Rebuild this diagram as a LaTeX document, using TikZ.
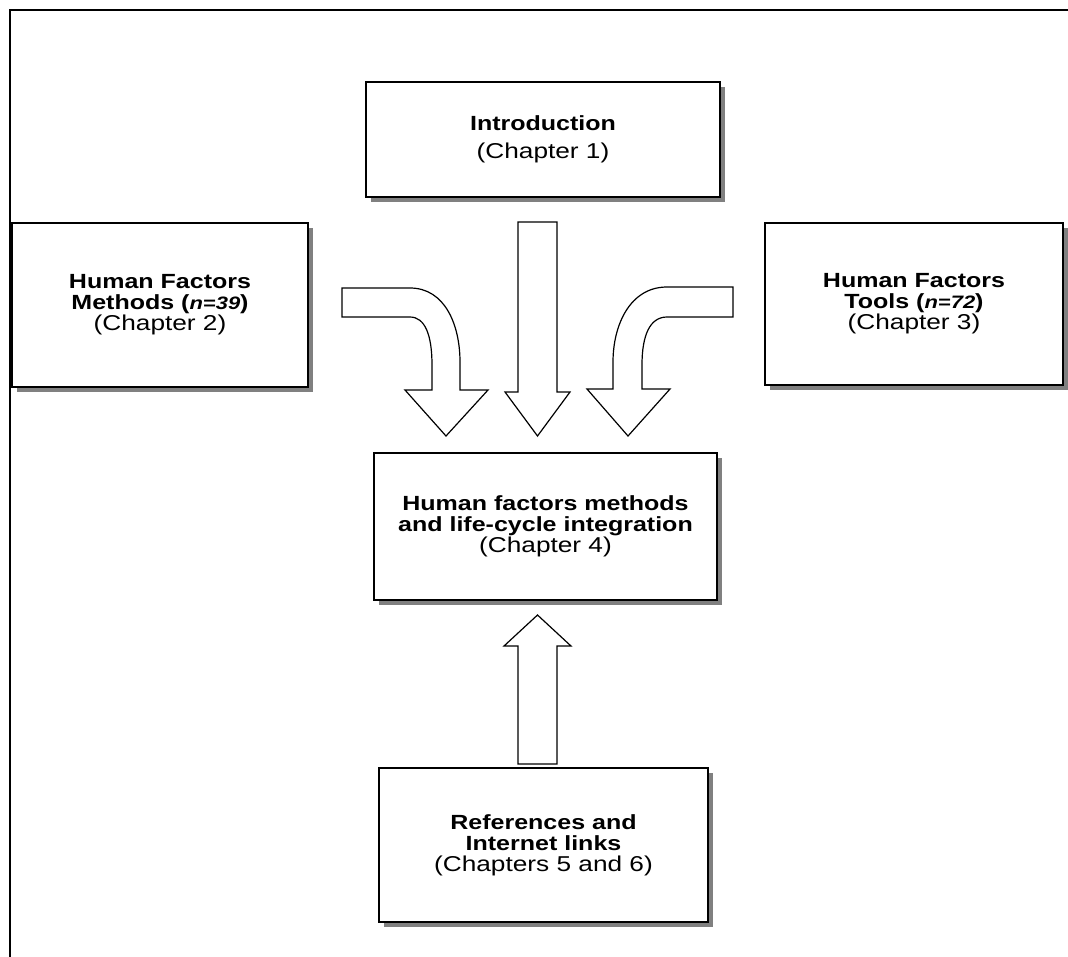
\documentclass[tikz,border=0pt]{standalone}
\usepackage{fontspec}
\setmainfont{Liberation Sans}[FakeStretch=1.22]
\usetikzlibrary{shadows}
\tikzset{%
  % Specifications for style of the chapter boxes:
        base/.style = {rectangle, draw=black, line width=1.6pt, fill=white,
                       inner sep=0pt, align=center,
                       drop shadow={shadow xshift=5pt, shadow yshift=-5pt,
                                    fill=black!50, opacity=1}},
  % the hollow block arrows between them
  blockarrow/.style = {draw=black, line width=1.2pt, fill=white,
                       line join=miter},
}
\newcommand{\chapfont}{\fontsize{21.5}{21}\selectfont}
\newcommand{\nval}[1]{{\fontsize{18}{21}\selectfont\textit{n=#1}}}

\begin{document}
\begin{tikzpicture}[x=1pt, y=-1pt,
    every node/.style={font=\fontsize{20.5}{21}\selectfont}]
  \useasboundingbox (0,0) rectangle (1068,956);
  % outer frame (cut off on the right and at the bottom)
  \draw[line width=2.5pt] (10,960) -- (10,10) -- (1070,10);
  % Specification of the chapter boxes
  \node (intro) [base, minimum width=354pt, minimum height=115pt] at (543,139.5)
        {\textbf{Introduction}\\[7pt]{\chapfont(Chapter 1)}};
  \node (methods) [base, minimum width=296pt, minimum height=164pt] at (160,305)
        {\textbf{Human Factors}\\\textbf{Methods (\nval{39})}\\{\chapfont(Chapter 2)}};
  \node (tools) [base, minimum width=298pt, minimum height=162pt] at (914,304)
        {\textbf{Human Factors}\\\textbf{Tools (\nval{72})}\\{\chapfont(Chapter 3)}};
  \node (integ) [base, minimum width=343pt, minimum height=147pt] at (545.5,526.5)
        {\textbf{Human factors methods}\\\textbf{and life-cycle integration}\\{\chapfont(Chapter 4)}};
  \node (refs) [base, minimum width=329pt, minimum height=154pt] at (543.5,845)
        {\textbf{References and}\\\textbf{Internet links}\\{\chapfont(Chapters 5 and 6)}};
  % Block arrows into Chapter 4
  \draw[blockarrow] (342,288) -- (410,288) .. controls (445,288) and (460,325) .. (460,362)
        -- (460,390) -- (488,390) -- (446,436) -- (405,390) -- (432,390) -- (432,365)
        .. controls (432,335) and (425,317) .. (410,317) -- (342,317) -- cycle;
  \draw[blockarrow] (518,222) -- (518,392) -- (505,392) -- (537.5,436) -- (570,392)
        -- (557,392) -- (557,222) -- cycle;
  \draw[blockarrow] (733,287) -- (667,287) .. controls (630,287) and (613,325) .. (613,362)
        -- (613,389) -- (587,389) -- (628,436) -- (670,389) -- (642,389) -- (642,365)
        .. controls (642,335) and (650,317) .. (667,317) -- (733,317) -- cycle;
  \draw[blockarrow] (518,764) -- (518,646) -- (504,646) -- (537.5,615) -- (571,646)
        -- (557,646) -- (557,764) -- cycle;
\end{tikzpicture}
\end{document}
